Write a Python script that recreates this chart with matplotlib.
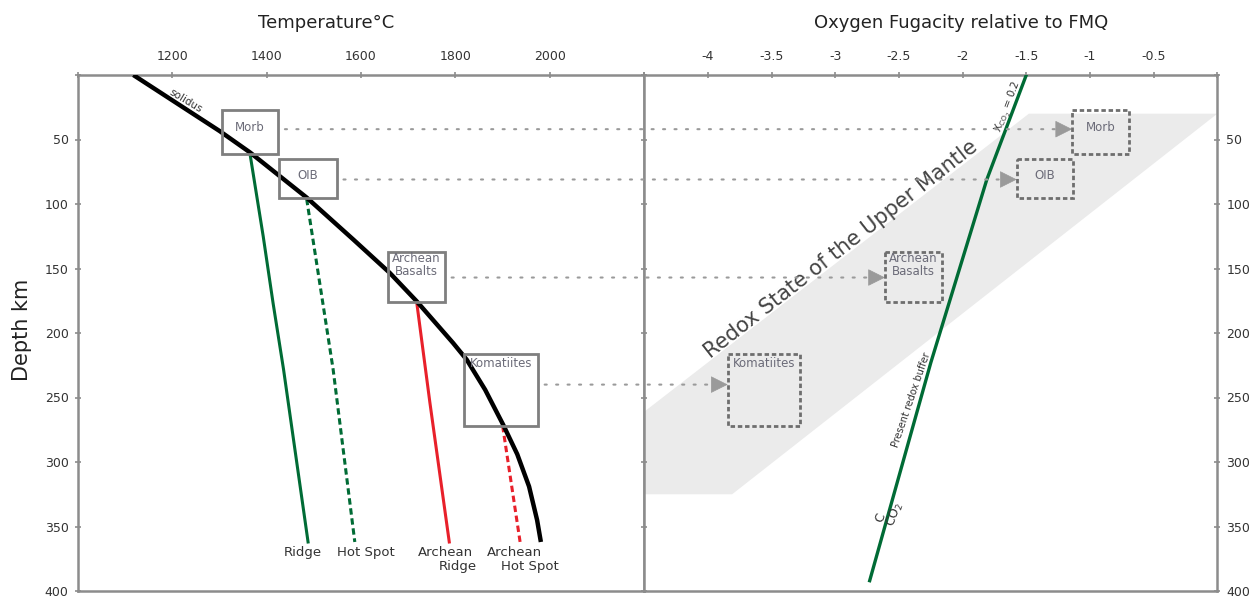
import matplotlib
matplotlib.use('Agg')
import matplotlib.pyplot as plt
from matplotlib.patches import Rectangle, ConnectionPatch

plt.rcParams['font.family'] = ['DejaVu Sans']

# solidus and melting paths (temperature C, depth km)
solidus_T = [1118, 1301, 1365, 1485, 1584, 1661, 1718, 1795, 1824, 1863, 1901,
             1931, 1956, 1973, 1981]
solidus_d = [0, 43.5, 60, 95, 127.6, 153.4, 175.4, 207.7, 220.7, 244, 271,
             294, 319, 345, 362]
ridge_T = [1365, 1393, 1414, 1436, 1488]
ridge_d = [61, 125, 177, 228, 362]
hotspot_T = [1485, 1541, 1587]
hotspot_d = [96, 228, 362]
arch_ridge_T = [1718, 1746, 1787]
arch_ridge_d = [176, 254, 362]
arch_hot_T = [1900, 1937]
arch_hot_d = [272, 362]

# present redox buffer (delta FMQ, depth km)
buffer_f = [-1.5, -1.81, -2.25, -2.73]
buffer_d = [0, 81, 223, 392]

# grey band: redox state of the upper mantle
band_f = [-1.48, 0.0, -3.81, -4.5, -4.5]
band_d = [30, 30, 325, 325, 261]

# magma boxes
box_names = ['Morb', 'OIB', 'Archean\nBasalts', 'Komatiites']
box_T_lo = [1305, 1427, 1658, 1818]
box_T_hi = [1425, 1549, 1778, 1975]
box_top = [27, 65, 137, 216]
box_bot = [61, 95, 176, 272]
box_label_d = [41, 78, 147, 224]
box_f_lo = [-1.14, -1.575, -2.61, -3.845]
box_f_hi = [-0.69, -1.13, -2.16, -3.28]
link_d = [42, 81, 157, 240]

green = '#006b35'
red = '#e8202a'
spine = '#8c8c8c'

W, H = 1256, 597
fig = plt.figure(figsize=(W / 100, H / 100), dpi=100)
bottom = 1 - 591 / H
height = (591 - 75) / H
ax1 = fig.add_axes([77.6 / W, bottom, (644.3 - 77.6) / W, height])
ax2 = fig.add_axes([644.3 / W, bottom, (1217.3 - 644.3) / W, height])

for ax in (ax1, ax2):
    ax.set_ylim(400, 0)
    for s in ax.spines.values():
        s.set_color(spine)
        s.set_linewidth(1.8)
    ax.xaxis.set_ticks_position('top')
    ax.tick_params(direction='inout', length=5, width=1.2, color=spine,
                   labelcolor='#333333', labelsize=9)
    ax.tick_params(axis='x', pad=6)
    ax.tick_params(axis='y', pad=4)
    ax.set_yticks(range(0, 401, 50))
    ax.set_yticklabels([''] + [str(v) for v in range(50, 401, 50)])

# ---- left panel: temperature
ax1.set_xlim(1000, 2200)
ax1.set_xticks(range(1000, 2201, 200))
ax1.set_xticklabels(['', '1200', '1400', '1600', '1800', '2000', ''])

ax1.plot(solidus_T, solidus_d, color='black', lw=3.2, solid_capstyle='butt',
         solid_joinstyle='round', zorder=3)
ax1.plot(ridge_T, ridge_d, color=green, lw=2.2)
ax1.plot(hotspot_T, hotspot_d, color=green, lw=2.2, dashes=(2.1, 1.2))
ax1.plot(arch_ridge_T, arch_ridge_d, color=red, lw=2.2)
ax1.plot(arch_hot_T, arch_hot_d, color=red, lw=2.2, dashes=(2.1, 1.2))

ax1.text(1228, 20, 'solidus', rotation=-31, fontsize=7.5, color='#333333',
         ha='center', va='center')

lab = dict(fontsize=9.5, color='#333333', ha='center', va='center')
ax1.text(1477, 370, 'Ridge', **lab)
ax1.text(1611, 370, 'Hot Spot', **lab)
ax1.text(1779, 370, 'Archean', **lab)
ax1.text(1805, 381, 'Ridge', **lab)
ax1.text(1925, 370, 'Archean', **lab)
ax1.text(1958, 381, 'Hot Spot', **lab)

for i in range(len(box_names)):
    ax1.add_patch(Rectangle((box_T_lo[i], box_top[i]), box_T_hi[i] - box_T_lo[i],
                            box_bot[i] - box_top[i], fill=False,
                            edgecolor='#7f7f7f', lw=2, zorder=4))
    ax1.text((box_T_lo[i] + box_T_hi[i]) / 2, box_label_d[i], box_names[i],
             fontsize=8.5, color='#6b6b78', ha='center', va='center',
             linespacing=1.0, zorder=5)

# ---- right panel: oxygen fugacity
ax2.set_xlim(-4.5, 0)
fticks = [-4.5, -4, -3.5, -3, -2.5, -2, -1.5, -1, -0.5, 0]
ax2.set_xticks(fticks)
ax2.set_xticklabels(['', '-4', '-3.5', '-3', '-2.5', '-2', '-1.5', '-1', '-0.5', ''])
ax2.yaxis.set_ticks_position('both')
ax2.tick_params(axis='y', labelleft=False, labelright=True)

ax2.fill(band_f, band_d, color='#ebebeb', lw=0, zorder=0)
ax2.plot(buffer_f, buffer_d, color=green, lw=2.4, zorder=3)

ax2.text(-1.64, 25, r'X$_{\mathregular{CO_2}}$ = 0.2', rotation=69, fontsize=7.5,
         color='#333333', ha='center', va='center')
ax2.text(-2.40, 252, 'Present redox buffer', rotation=71, fontsize=7,
         color='#333333', ha='center', va='center')
ax2.text(-2.648, 343, 'C', rotation=70, fontsize=9, color='#333333',
         ha='center', va='center')
ax2.text(-2.53, 341, r'CO$_\mathregular{2}$', rotation=70, fontsize=9, color='#333333',
         ha='center', va='center')
ax2.text(-2.955, 135, 'Redox State of the Upper Mantle', rotation=38, fontsize=15,
         color='#444444', ha='center', va='center')

for i in range(len(box_names)):
    ax2.add_patch(Rectangle((box_f_lo[i], box_top[i]), box_f_hi[i] - box_f_lo[i],
                            box_bot[i] - box_top[i], fill=False,
                            edgecolor='#6e6e6e', lw=2, linestyle=(0, (1.6, 1.0)),
                            zorder=4))
    ax2.text((box_f_lo[i] + box_f_hi[i]) / 2, box_label_d[i], box_names[i],
             fontsize=8.5, color='#6b6b78', ha='center', va='center',
             linespacing=1.0, zorder=5)
    # dotted link from left box to right box
    con = ConnectionPatch(xyA=(box_T_hi[i] + 14, link_d[i]), coordsA=ax1.transData,
                          xyB=(box_f_lo[i] - 0.08, link_d[i]), coordsB=ax2.transData,
                          color='#9a9a9a', lw=1.5, linestyle=(0, (1, 4.5)))
    fig.add_artist(con)
    ax2.annotate('', xy=(box_f_lo[i], link_d[i]), xytext=(box_f_lo[i] - 0.1, link_d[i]),
                 arrowprops=dict(arrowstyle='-|>,head_length=0.8,head_width=0.4',
                                 color='#9a9a9a', lw=0.5, shrinkA=0, shrinkB=0,
                                 mutation_scale=14))

fig.text(326.5 / W, 1 - 23 / H, 'Temperature°C', fontsize=13, color='#222222',
         ha='center', va='center')
fig.text(961.6 / W, 1 - 23 / H, 'Oxygen Fugacity relative to FMQ', fontsize=13,
         color='#222222', ha='center', va='center')
fig.text(21.7 / W, 1 - 330 / H, 'Depth km', fontsize=15, color='#222222',
         rotation=90, ha='center', va='center')

plt.savefig('out.png', dpi=100)
